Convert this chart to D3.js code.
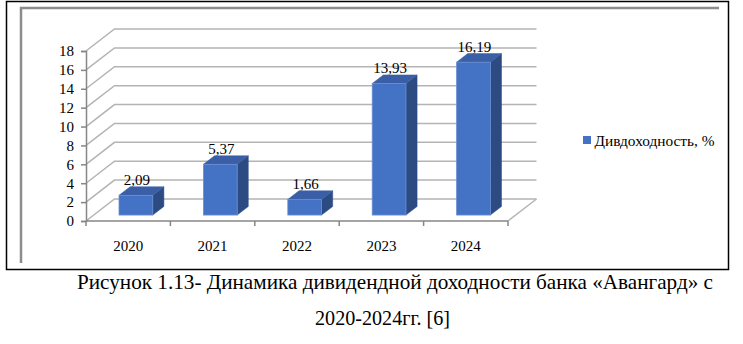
<!DOCTYPE html>
<html>
<head>
<meta charset="utf-8">
<script src="https://cdn.jsdelivr.net/npm/d3@7"></script>
<style>
  html, body { margin: 0; padding: 0; background: #fff; }
  svg { display: block; }
</style>
</head>
<body>
<svg id="chart" width="743" height="344"></svg>
<script>
const categories = ["2020", "2021", "2022", "2023", "2024"];
const values = [2.09, 5.37, 1.66, 13.93, 16.19];
const yTicks = [0, 2, 4, 6, 8, 10, 12, 14, 16, 18];
const seriesName = "Дивдоходность, %";
const captionLines = ["Рисунок 1.13- Динамика дивидендной доходности банка «Авангард» с", "2020-2024гг. [6]"];

const FONT = "'Liberation Serif'";
const FS = "15px";
const svg = d3.select("#chart");
const ru = d3.formatLocale({decimal: ",", thousands: " ", grouping: [3], currency: ["", ""]});
const fmt = ru.format(".2f");

// layout
const x0 = 86, x1 = 508, yBase = 221, yTop = 51;
const depth = [28.5, -22];
const barF0 = 0.27, barF1 = 0.66;

const x = d3.scaleBand().domain(categories).range([x0, x1]).padding(0);
const y = d3.scaleLinear().domain([0, 18]).range([yBase, yTop]);

// frames
svg.append("rect").attr("x", 6.5).attr("y", 1.5).attr("width", 722).attr("height", 268)
  .attr("fill", "none").attr("stroke", "#000").attr("stroke-width", 1.5);
svg.append("path").attr("d", "M21,263 L21,8 L719,8")
  .attr("fill", "none").attr("stroke", "#8c8c8c").attr("stroke-width", 2.5);

const grid = svg.append("g");
yTicks.forEach(t => {
  const yy = y(t);
  grid.append("path")
    .attr("d", `M${x0},${yy} L${x0 + depth[0]},${yy + depth[1]} L${x1 + depth[0]},${yy + depth[1]}`)
    .attr("fill", "none").attr("stroke", "#b4b4b4").attr("stroke-width", 1.5);
});
grid.append("path")
  .attr("d", `M${x1},${yBase} L${x1 + depth[0]},${yBase + depth[1]}`)
  .attr("fill", "none").attr("stroke", "#b4b4b4").attr("stroke-width", 1.5);

// y axis
const yAxis = d3.axisLeft(y).tickValues(yTicks).tickSize(5).tickPadding(7).tickFormat(d3.format("d"));
const gy = svg.append("g").attr("transform", `translate(${x0},0)`).call(yAxis);
gy.attr("font-family", "Liberation Serif").attr("font-size", 15);
gy.select(".domain").attr("stroke", "#868686").attr("stroke-width", 1.5);
gy.selectAll(".tick line").attr("stroke", "#868686").attr("stroke-width", 1.5);
gy.selectAll(".tick text").attr("fill", "#000").style("font-family", FONT).style("font-size", FS);

// x axis
const xAxis = d3.axisBottom(x).tickSize(0).tickPadding(19);
const gx = svg.append("g").attr("transform", `translate(0,${yBase})`).call(xAxis);
gx.attr("font-family", "Liberation Serif").attr("font-size", 15);
gx.select(".domain").attr("stroke", "#868686").attr("stroke-width", 1.5).attr("d", `M${x0},0H${x1}`);
gx.selectAll(".tick text").attr("fill", "#000").style("font-family", FONT).style("font-size", FS);
const bounds = categories.map(c => x(c)).concat([x1]);
gx.selectAll(".bt").data(bounds).join("line").attr("class", "bt")
  .attr("x1", d => d).attr("x2", d => d).attr("y1", 0).attr("y2", 5)
  .attr("stroke", "#868686").attr("stroke-width", 1.5);

// bars
const bw = x.bandwidth() * 0.4;
const bars = svg.append("g");
const ox = depth[0] * barF0, oy = depth[1] * barF0;
const dx = depth[0] * (barF1 - barF0), dy = depth[1] * (barF1 - barF0);
categories.forEach((c, i) => {
  const v = values[i];
  const cx = x(c) + x.bandwidth() / 2 + ox;
  const L = cx - bw / 2, R = cx + bw / 2;
  const T = y(v) + oy, B = y(0) + oy;
  bars.append("path")
    .attr("d", `M${R},${T} L${R + dx},${T + dy} L${R + dx},${B + dy} L${R},${B} Z`)
    .attr("fill", "#2c4b82").attr("stroke", "#2c4b82").attr("stroke-width", 0.5);
  bars.append("path")
    .attr("d", `M${L},${T} L${L + dx},${T + dy} L${R + dx},${T + dy} L${R},${T} Z`)
    .attr("fill", "#3a5fa6").attr("stroke", "#3a5fa6").attr("stroke-width", 0.5);
  bars.append("rect").attr("x", L).attr("y", T).attr("width", bw).attr("height", B - T)
    .attr("fill", "#4472c4").attr("stroke", "#6a8fd2").attr("stroke-width", 0.8);
  svg.append("text").attr("x", cx + 1).attr("y", T + dy - 1.5)
    .attr("text-anchor", "middle").style("font-family", FONT).style("font-size", FS).text(fmt(v));
});

// legend
const lg = svg.append("g").attr("transform", "translate(583,136)");
lg.append("rect").attr("width", 8).attr("height", 8).attr("fill", "#4472c4");
lg.append("text").attr("x", 11.5).attr("y", 9.5).style("font-family", FONT).style("font-size", FS)
  .attr("textLength", 120).attr("lengthAdjust", "spacingAndGlyphs").text(seriesName);

// caption
svg.append("text").attr("x", 77).attr("y", 288.7).style("font-family", FONT).style("font-size", "21px")
  .attr("textLength", 636).attr("lengthAdjust", "spacingAndGlyphs").text(captionLines[0]);
svg.append("text").attr("x", 315).attr("y", 325.3).style("font-family", FONT).style("font-size", "21px")
  .attr("textLength", 135).attr("lengthAdjust", "spacingAndGlyphs").text(captionLines[1]);
</script>
</body>
</html>
